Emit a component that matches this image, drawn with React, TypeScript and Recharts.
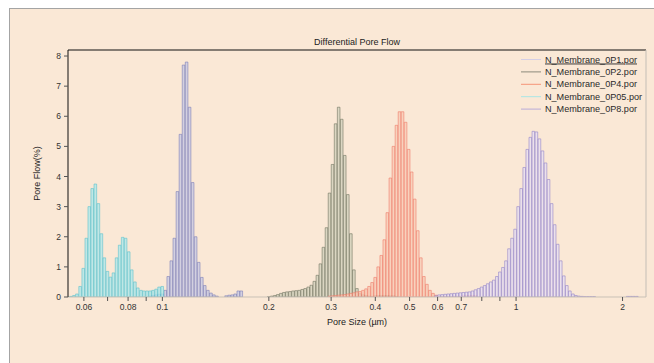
import React from 'react';
import { ComposedChart, Bar, XAxis, YAxis, Legend, Label } from 'recharts';

// bin centres of the pore size grid (µm)
const poreSize = [
  0.0552, 0.0563, 0.0574, 0.0586, 0.0598, 0.061, 0.0622, 0.0634, 0.0647, 0.066,
  0.0673, 0.0686, 0.07, 0.0714, 0.0728, 0.0743, 0.0758, 0.0773, 0.0788, 0.0804,
  0.082, 0.0837, 0.0853, 0.0871, 0.0888, 0.0906, 0.0924, 0.0942, 0.0961, 0.098,
  0.1, 0.102, 0.104, 0.1061, 0.1082, 0.1104, 0.1126, 0.1149, 0.1172, 0.1195,
  0.1219, 0.1243, 0.1268, 0.1294, 0.1319, 0.1346, 0.1373, 0.14, 0.1428, 0.1457,
  0.1486, 0.1516, 0.1546, 0.1577, 0.1608, 0.1641, 0.1673, 0.1707, 0.1741, 0.1776,
  0.1811, 0.1848, 0.1885, 0.1922, 0.1961,
  0.2, 0.204, 0.2081, 0.2122, 0.2165, 0.2208, 0.2252, 0.2297, 0.2343, 0.239,
  0.2438, 0.2487, 0.2536, 0.2587, 0.2639, 0.2692, 0.2746, 0.28, 0.2856, 0.2914,
  0.2972, 0.3031, 0.3092, 0.3154, 0.3217, 0.3281, 0.3347, 0.3414, 0.3482, 0.3552,
  0.3623, 0.3695, 0.3769, 0.3844, 0.3921,
  0.4, 0.408, 0.4162, 0.4245, 0.433, 0.4416, 0.4505, 0.4595, 0.4687, 0.478,
  0.4876, 0.4974, 0.5073, 0.5174, 0.5278, 0.5384, 0.5492, 0.5602, 0.5714, 0.5828,
  0.5944, 0.6063, 0.6185, 0.6309, 0.6435, 0.6564, 0.6694, 0.6828, 0.6965, 0.7104,
  0.7246, 0.7391, 0.7539, 0.769, 0.7843,
  0.8, 0.816, 0.8323, 0.849, 0.8659, 0.8833, 0.9009, 0.919, 0.9374, 0.9561,
  0.9752, 0.9947, 1.0146, 1.0349, 1.0556, 1.0767, 1.0983, 1.1202, 1.1426, 1.1655,
  1.1888, 1.2126, 1.2368, 1.2616, 1.2868, 1.3125, 1.3388, 1.3656, 1.3929, 1.4207,
  1.4491, 1.4781, 1.5077, 1.5379, 1.5686,
  1.6, 1.632, 1.665, 1.698, 1.732, 1.767, 1.802, 1.838, 1.875, 1.912,
  1.95, 1.989, 2.029, 2.07, 2.111, 2.153, 2.197,
];

// pore flow (%) per bin, starting at the given pore size
const start0P1 = 0.0924;
const flow0P1 = [
  0.03, 0.05, 0.07, 0.09, 0.1, 0.22, 0.68, 1.2, 1.95, 3.5, 5.4, 7.7, 7.8, 6.3, 3.8,
  2.0, 1.15, 0.65, 0.38, 0.22, 0.13, 0.07, 0.03, 0, 0, 0.04, 0.06, 0.07, 0.1, 0.2, 0.2,
];

const start0P2 = 0.2;
const flow0P2 = [
  0.01, 0.03, 0.05, 0.08, 0.12, 0.15, 0.17, 0.18, 0.2, 0.21, 0.22, 0.25, 0.28, 0.33,
  0.39, 0.52, 0.72, 1.1, 1.65, 2.3, 3.45, 4.4, 5.75, 6.3, 5.9, 4.7, 3.4, 2.1, 0.9,
  0.28, 0.11, 0.07, 0.05, 0.03, 0.02, 0.04, 0.05, 0.05, 0.05, 0.05, 0.04, 0.04, 0.02,
];

const start0P4 = 0.2972;
const flow0P4 = [
  0.03, 0.04, 0.05, 0.06, 0.07, 0.08, 0.1, 0.12, 0.14, 0.17, 0.18, 0.22, 0.27, 0.35,
  0.48, 0.65, 1.0, 1.38, 1.9, 2.8, 3.95, 5.0, 5.7, 6.15, 6.15, 5.8, 4.9, 4.15, 3.25,
  2.2, 1.3, 0.68, 0.42, 0.22, 0.12, 0.06, 0.02, 0.02, 0.02, 0.02, 0.02, 0.02, 0.03,
  0.03, 0.04, 0.05, 0.05, 0.05, 0.05,
];

const start0P05 = 0.0552;
const flow0P05 = [
  0.02, 0.05, 0.1, 0.35, 0.95, 1.95, 3.0, 3.6, 3.75, 3.1, 2.1, 1.3, 0.85, 0.66, 0.8,
  1.3, 1.72, 1.98, 1.95, 1.5, 0.9, 0.5, 0.3, 0.22, 0.2, 0.2, 0.2, 0.22, 0.26, 0.33, 0.35,
];

const start0P8 = 0.5944;
const flow0P8 = [
  0.04, 0.07, 0.08, 0.09, 0.1, 0.11, 0.12, 0.13, 0.14, 0.15, 0.16, 0.17, 0.2, 0.24,
  0.28, 0.33, 0.38, 0.44, 0.5, 0.56, 0.68, 0.83, 0.98, 1.2, 1.6, 1.95, 2.25, 3.0, 3.6,
  4.3, 4.9, 5.3, 5.5, 5.48, 5.25, 4.85, 4.45, 3.9, 3.1, 2.4, 1.75, 1.2, 0.7, 0.38, 0.2,
  0.1, 0.05, 0.03, 0.02, 0.01, 0.01, 0.01, 0.01, 0, 0, 0, 0, 0, 0, 0, 0, 0, 0,
  0.02, 0.02, 0.02, 0.02,
];

const sizeTicks = [0.06, 0.07, 0.08, 0.09, 0.1, 0.2, 0.3, 0.4, 0.5, 0.6, 0.7, 0.8, 0.9, 1, 2];
const sizeLabels = [0.06, 0.08, 0.1, 0.2, 0.3, 0.4, 0.5, 0.6, 0.7, 1, 2];
const flowTicks = [0, 1, 2, 3, 4, 5, 6, 7, 8];

const series = [
  { key: 'p1', name: 'N_Membrane_0P1.por', start: start0P1, values: flow0P1, fill: '#c9c9e2', stroke: '#7476b4', legend: '#d4cfe6' },
  { key: 'p2', name: 'N_Membrane_0P2.por', start: start0P2, values: flow0P2, fill: '#d3d1bd', stroke: '#666c58', legend: '#8c8a7c' },
  { key: 'p4', name: 'N_Membrane_0P4.por', start: start0P4, values: flow0P4, fill: '#f8ccb6', stroke: '#ef7462', legend: '#f59477' },
  { key: 'p05', name: 'N_Membrane_0P05.por', start: start0P05, values: flow0P05, fill: '#b2e6e8', stroke: '#52bfcc', legend: '#a9e6e6' },
  { key: 'p8', name: 'N_Membrane_0P8.por', start: start0P8, values: flow0P8, fill: '#e8dff0', stroke: '#8a7bc6', legend: '#b9acd9' },
];

const data = poreSize.map((x, i) => {
  const row: Record<string, number> = { x };
  series.forEach((s) => {
    const j = i - poreSize.indexOf(s.start);
    if (j >= 0 && j < s.values.length) row[s.key] = s.values[j];
  });
  return row;
});

const font = '"Liberation Sans", Arial, sans-serif';
const xDomain = [0.0541, 2.33];

const renderLegend = () => (
  <svg width={133} height={64} style={{ display: 'block' }}>
    {series.map((s, i) => (
      <g key={s.key} transform={`translate(0, ${6 + i * 12.4})`}>
        <line x1={0} x2={20} y1={0.5} y2={0.5} stroke={s.legend} strokeWidth={1} />
        <text x={24} y={3.5} fontSize={9.1} fontFamily={font} fill="#2a2a2a" textDecoration={i === 0 ? 'underline' : undefined}>
          {s.name}
        </text>
      </g>
    ))}
  </svg>
);

export default function App() {
  return (
    <div style={{ position: 'absolute', left: 0, top: 0, width: 654, height: 363, background: '#fff' }}>
      <div
        style={{
          position: 'absolute', left: 9, top: 8, right: 0, bottom: 0,
          background: '#fae8d6', borderLeft: '1px solid #a4a4a4', borderTop: '1px solid #a4a4a4',
        }}
      />
      <div style={{ position: 'absolute', left: 0, top: 0 }}>
        <ComposedChart width={654} height={363} data={data} margin={{ top: 49, right: 7, bottom: 36, left: 9 }}>
          <XAxis
            xAxisId="main" dataKey="x" type="number" scale="log" domain={xDomain} allowDataOverflow
            ticks={sizeTicks} interval={0} tickFormatter={(v) => (sizeLabels.includes(v) ? String(v) : '')}
            height={30} tickSize={4} tickMargin={3}
            axisLine={{ stroke: '#c9c1b6' }} tickLine={{ stroke: '#555' }}
            tick={{ fontSize: 8.5, fill: '#333', fontFamily: font }}
          >
            <Label value="Pore Size (µm)" position="insideBottom" offset={2} style={{ fontSize: 9, fill: '#222', fontFamily: font }} />
          </XAxis>
          <XAxis
            xAxisId="top" orientation="top" dataKey="x" type="number" scale="log" domain={xDomain} allowDataOverflow
            height={1} ticks={[1]} tick={false} tickLine={false} axisLine={{ stroke: '#111' }}
          >
            <Label value="Differential Pore Flow" position="top" offset={4} style={{ fontSize: 9, fill: '#222', fontFamily: font }} />
          </XAxis>
          {series.map((s) => (
            <XAxis key={s.key} xAxisId={s.key} dataKey="x" type="number" scale="log" domain={xDomain} allowDataOverflow hide />
          ))}
          <YAxis
            type="number" domain={[0, 8.2]} ticks={flowTicks} allowDataOverflow width={59}
            tickSize={4} tickMargin={3} axisLine={{ stroke: '#111' }} tickLine={{ stroke: '#555' }}
            tick={{ fontSize: 8.5, fill: '#333', fontFamily: font }}
          >
            <Label value="Pore Flow(%)" angle={-90} position="center" dx={-2} style={{ fontSize: 9, fill: '#222', fontFamily: font }} />
          </YAxis>
          <YAxis
            yAxisId="right" orientation="right" width={1} domain={[0, 8.2]} ticks={[0]}
            tick={false} tickLine={false} axisLine={{ stroke: '#c4beb6' }}
          />
          {series.map((s) => (
            <Bar
              key={s.key} xAxisId={s.key} dataKey={s.key} name={s.name} barSize={3.4}
              fill={s.fill} fillOpacity={0.8} stroke={s.stroke} strokeWidth={0.55} isAnimationActive={false}
            />
          ))}
          <Legend
            layout="horizontal" verticalAlign="middle" align="center" content={renderLegend}
            wrapperStyle={{ top: 53, left: 521, width: 133, height: 64 }}
          />
        </ComposedChart>
      </div>
    </div>
  );
}
